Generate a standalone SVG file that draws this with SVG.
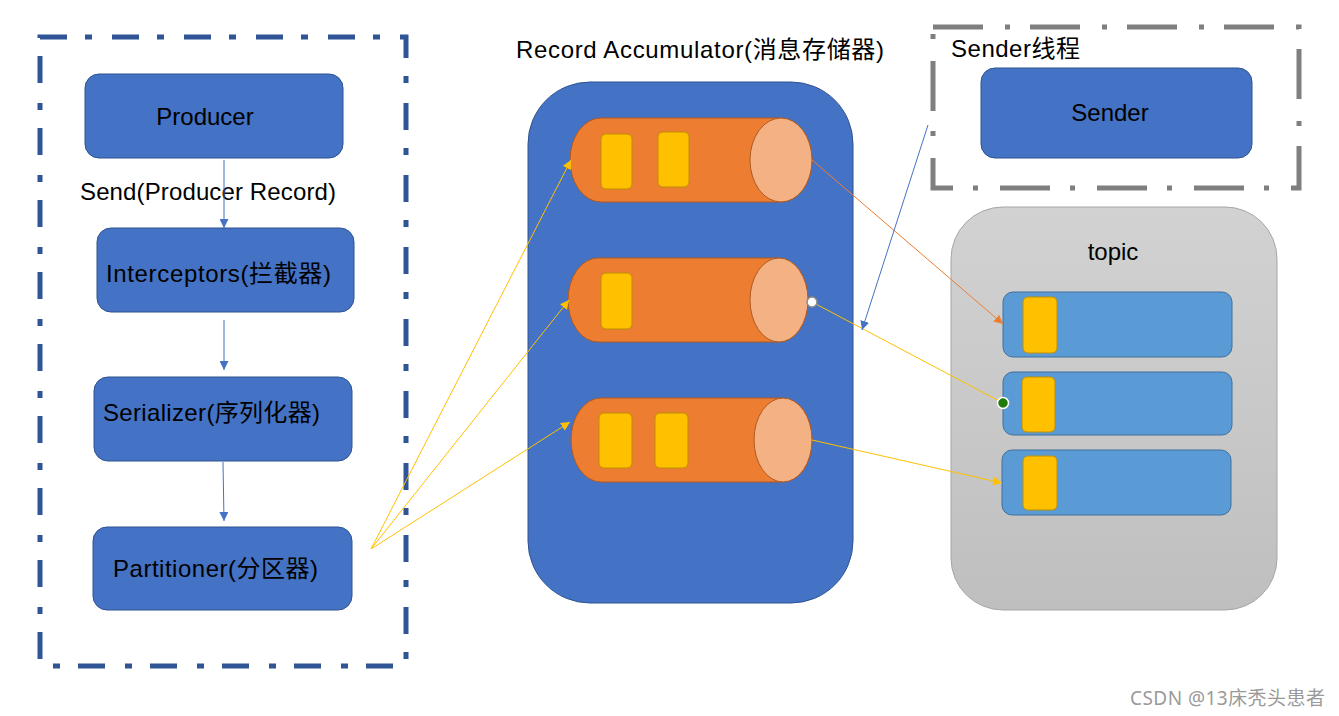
<svg xmlns="http://www.w3.org/2000/svg" width="1339" height="716" viewBox="0 0 1339 716">
<style>
text{font-family:"Liberation Sans","Noto Sans CJK SC",sans-serif;font-size:24px;fill:#000}
.box{fill:#4472C4;stroke:#2F528F;stroke-width:1}
.cyl{fill:#ED7D31;stroke:#AE5A21;stroke-width:1}
.cap{fill:#F4B183;stroke:#AE5A21;stroke-width:1}
.msg{fill:#FFC000;stroke:#BF9000;stroke-width:1}
.part{fill:#5B9BD5;stroke:#41719C;stroke-width:1}
.blue{stroke:#4472C4;stroke-width:1;fill:none}
.yel{stroke:#FFC000;stroke-width:1;fill:none}
.org{stroke:#ED7D31;stroke-width:1;fill:none}
</style>
<defs>
<marker id="ab" viewBox="0 0 10 10" refX="10" refY="5" markerWidth="9" markerHeight="9" markerUnits="userSpaceOnUse" orient="auto"><path d="M0,0L10,5L0,10Z" fill="#4472C4"/></marker>
<marker id="ay" viewBox="0 0 10 10" refX="10" refY="5" markerWidth="9" markerHeight="9" markerUnits="userSpaceOnUse" orient="auto"><path d="M0,0L10,5L0,10Z" fill="#FFC000"/></marker>
<marker id="ao" viewBox="0 0 10 10" refX="10" refY="5" markerWidth="9" markerHeight="9" markerUnits="userSpaceOnUse" orient="auto"><path d="M0,0L10,5L0,10Z" fill="#ED7D31"/></marker>
<linearGradient id="tg" x1="0" y1="0" x2="0" y2="1"><stop offset="0" stop-color="#D2D2D2"/><stop offset="1" stop-color="#BFBFBF"/></linearGradient>
</defs>

<g id="producer-frame">
<rect x="40" y="37" width="366" height="629" fill="none" stroke="#2F5597" stroke-width="5" stroke-dasharray="27 18 7 20"/>
</g>
<g id="producer"><rect class="box" x="85" y="74" width="258" height="84" rx="14"/><text x="205" y="125" text-anchor="middle">Producer</text></g>
<g id="send-label"><text x="80" y="200" textLength="256" lengthAdjust="spacing">Send(Producer Record)</text></g>
<g id="interceptors"><rect class="box" x="97" y="228" width="257" height="84" rx="14"/><text x="106" y="282" textLength="225" lengthAdjust="spacing">Interceptors(拦截器)</text></g>
<g id="serializer"><rect class="box" x="94" y="377" width="258" height="84" rx="14"/><text x="103" y="421" textLength="217" lengthAdjust="spacing">Serializer(序列化器)</text></g>
<g id="partitioner"><rect class="box" x="93" y="527" width="259" height="83" rx="14"/><text x="113" y="577" textLength="205" lengthAdjust="spacing">Partitioner(分区器)</text></g>

<g id="accumulator">
<text x="516" y="58" textLength="368" lengthAdjust="spacing">Record Accumulator(消息存储器)</text>
<rect class="box" x="528" y="82" width="325" height="521" rx="62"/>
</g>
<g id="batch1">
<path class="cyl" d="M601,118H781A31,42 0 0 1 781,202H601A31,42 0 0 1 601,118Z"/>
<ellipse class="cap" cx="781" cy="160" rx="31" ry="42"/>
<rect class="msg" x="601" y="134" width="31" height="55" rx="5"/>
<rect class="msg" x="658" y="132" width="31" height="55" rx="5"/>
</g>
<g id="batch2">
<path class="cyl" d="M598,258H779A29,42 0 0 1 779,342H598A30,42 0 0 1 598,258Z"/>
<ellipse class="cap" cx="779" cy="300" rx="29" ry="42"/>
<rect class="msg" x="601" y="273" width="31" height="56" rx="5"/>
</g>
<g id="batch3">
<path class="cyl" d="M601,398H783A29,42 0 0 1 783,482H601A30,42 0 0 1 601,398Z"/>
<ellipse class="cap" cx="783" cy="440" rx="29" ry="42"/>
<rect class="msg" x="599" y="413" width="33" height="55" rx="5"/>
<rect class="msg" x="655" y="413" width="33" height="55" rx="5"/>
</g>

<g id="sender-thread">
<rect x="933" y="27" width="366" height="161" fill="none" stroke="#7F7F7F" stroke-width="5" stroke-dasharray="50 22 5 20"/>
<text x="951" y="57" textLength="129" lengthAdjust="spacing">Sender线程</text>
</g>
<g id="sender"><rect class="box" x="981" y="68" width="271" height="90" rx="14"/><text x="1110" y="121" text-anchor="middle">Sender</text></g>

<g id="topic">
<rect x="951" y="207" width="326" height="403" rx="52" fill="url(#tg)" stroke="#A6A6A6" stroke-width="1"/>
<text x="1113" y="260" text-anchor="middle">topic</text>
</g>
<g id="partition1"><rect class="part" x="1003" y="292" width="229" height="65" rx="10"/><rect class="msg" x="1023" y="297" width="34" height="56" rx="5"/></g>
<g id="partition2"><rect class="part" x="1003" y="372" width="229" height="63" rx="10"/><rect class="msg" x="1022" y="377" width="33" height="55" rx="5"/></g>
<g id="partition3"><rect class="part" x="1002" y="450" width="229" height="65" rx="10"/><rect class="msg" x="1023" y="456" width="34" height="54" rx="5"/></g>

<g id="connectors">
<line class="blue" x1="224" y1="160" x2="224" y2="228" marker-end="url(#ab)"/>
<line class="blue" x1="224" y1="320" x2="224" y2="370" marker-end="url(#ab)"/>
<line class="blue" x1="223" y1="462" x2="224" y2="521" marker-end="url(#ab)"/>
<line class="yel" x1="371" y1="549" x2="571" y2="160" marker-end="url(#ay)"/>
<line class="yel" x1="371" y1="549" x2="569" y2="300" marker-end="url(#ay)"/>
<line class="yel" x1="371" y1="549" x2="570" y2="422" marker-end="url(#ay)"/>
<line class="org" x1="812" y1="160" x2="1003" y2="324" marker-end="url(#ao)"/>
<line class="yel" x1="812" y1="302" x2="1003" y2="403"/>
<line class="yel" x1="812" y1="440" x2="1002" y2="483" marker-end="url(#ay)"/>
<line class="blue" x1="928" y1="125" x2="862" y2="330" marker-end="url(#ab)"/>
<circle cx="812" cy="302" r="5" fill="#fff" stroke="#8C8C8C" stroke-width="1.5"/>
<circle cx="1003" cy="403" r="5.5" fill="#1F7A0A" stroke="#fff" stroke-width="1.5"/>
</g>

<g id="watermark"><text x="1130" y="705" textLength="195" lengthAdjust="spacing" style="font-family:'Noto Sans','Noto Sans CJK SC',sans-serif;font-size:19px;fill:#9A9A9A">CSDN @13床秃头患者</text></g>
</svg>
